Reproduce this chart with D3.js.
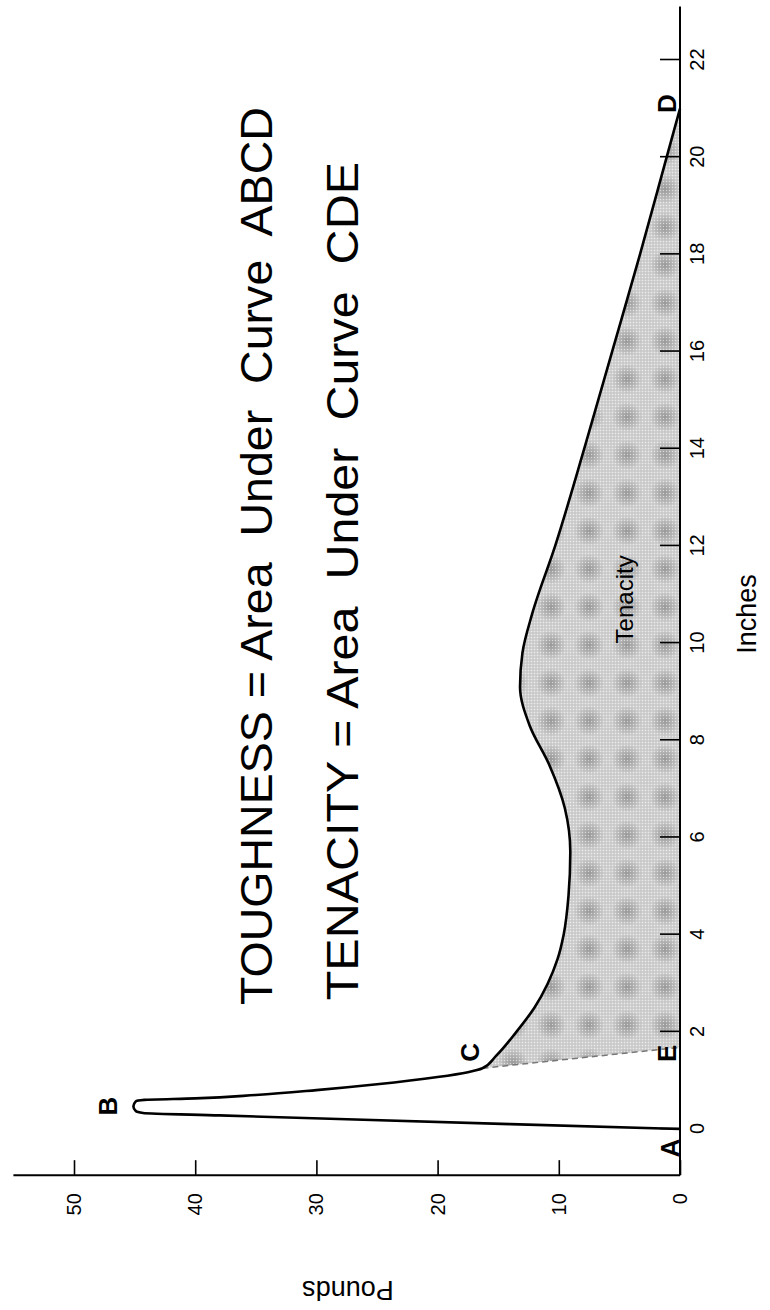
<!DOCTYPE html>
<html>
<head>
<meta charset="utf-8">
<title>Toughness and Tenacity</title>
<script src="https://cdnjs.cloudflare.com/ajax/libs/d3/7.8.5/d3.min.js"></script>
<style>
  body { margin: 0; background: #fff; }
  svg { display: block; font-family: "Liberation Sans", Arial, Helvetica, sans-serif; }
  .axis .domain { display: none; }
  .axis .tick line { stroke: #000; stroke-width: 1.6; }
  .axis .tick text { font-size: 20px; fill: #000; font-family: "Liberation Sans", Arial, sans-serif; }
  .axis-line { stroke: #000; stroke-width: 2; }
  .curve { fill: none; stroke: #000; stroke-width: 2.6; }
  .pt { font-size: 26px; font-weight: bold; }
  .note { font-size: 44px; white-space: pre; }
  .title { font-size: 27px; }
</style>
</head>
<body>
<div id="chart"></div>
<script>
  // curve (inches, pounds)
  const inches = [0, 0.1, 0.2, 0.28, 0.33, 0.37, 0.47, 0.57, 0.6, 0.63, 0.7, 0.8, 0.92, 1.07, 1.17, 1.25,
    1.5, 2, 2.5, 3, 3.5, 4, 4.8, 5.7, 6.6, 7.5, 8.3, 9.1, 9.8, 10.6, 12, 14, 16, 18, 20, 21]
  const pounds = [0, 14, 27.5, 38, 44.3, 44.9, 45.1, 44.9, 44.2, 40, 35, 30, 25, 20, 17.5, 16.3,
    15.2, 13.5, 12, 10.9, 10.1, 9.6, 9.2, 9.05, 9.5, 10.8, 12.4, 13.2, 13.0, 12.2, 10.3, 7.9, 5.6, 3.3, 1.1, 0]
  const pointC = 1.25
  const pointE = 1.68
  const inchTicks = [0, 2, 4, 6, 8, 10, 12, 14, 16, 18, 20, 22]
  const poundTicks = [0, 10, 20, 30, 40, 50]

  const W = 770, H = 1310
  const svg = d3.select('#chart').append('svg')
    .attr('width', W)
    .attr('height', H)

  // halftone-ish fill
  const defs = svg.append('defs')
  const grad = defs.append('radialGradient').attr('id', 'blot')
  grad.append('stop').attr('offset', '0%').attr('stop-color', '#9c9c9c')
  grad.append('stop').attr('offset', '100%').attr('stop-color', '#d2d2d2')
  const blot = defs.append('pattern').attr('id', 'blots')
    .attr('patternUnits', 'userSpaceOnUse').attr('width', 38).attr('height', 38)
  blot.append('rect').attr('width', 38).attr('height', 38).attr('fill', '#d2d2d2')
  blot.append('circle').attr('cx', 19).attr('cy', 19).attr('r', 15).attr('fill', 'url(#blot)')
  const dots = defs.append('pattern').attr('id', 'dots')
    .attr('patternUnits', 'userSpaceOnUse').attr('width', 3).attr('height', 3)
  dots.append('rect').attr('width', 1).attr('height', 1).attr('fill', '#fff').attr('opacity', 0.55)
  dots.append('rect').attr('x', 1.5).attr('y', 1.5).attr('width', 1).attr('height', 1).attr('fill', '#777').attr('opacity', 0.4)

  // the whole figure is turned a quarter turn
  const chart = svg.append('g')
    .attr('transform', `translate(0,${H}) rotate(-90)`)

  const x = d3.scaleLinear().domain([0, 22]).range([181, 1250])
  const y = d3.scaleLinear().domain([0, 50]).range([680, 74])

  const line = d3.line()
    .x(d => x(d[0]))
    .y(d => y(d[1]))
    .curve(d3.curveMonotoneX)

  const pts = inches.map((d, i) => [d, pounds[i]])
  const tenPts = pts.filter(d => d[0] >= pointC)
  const pC = pounds[inches.indexOf(pointC)]

  // tenacity area CDE
  const areaD = line(tenPts) + `L${x(pointE)},${y(0)}Z`
  chart.append('path').attr('d', areaD).attr('fill', 'url(#blots)')
  chart.append('path').attr('d', areaD).attr('fill', 'url(#dots)')

  // dashed C-E
  chart.append('line')
    .attr('x1', x(pointC)).attr('y1', y(pC))
    .attr('x2', x(pointE)).attr('y2', y(0))
    .attr('stroke', '#777').attr('stroke-width', 1.5)
    .attr('stroke-dasharray', '6,4')

  chart.append('path')
    .datum(pts)
    .attr('class', 'curve')
    .attr('d', line)

  // axes
  chart.append('g')
    .attr('class', 'axis')
    .attr('transform', `translate(0,${y(0)})`)
    .call(d3.axisBottom(x).tickValues(inchTicks).tickSizeInner(-20).tickSizeOuter(0).tickPadding(10))
  chart.append('g')
    .attr('class', 'axis')
    .attr('transform', `translate(${x(-0.95)},0)`)
    .call(d3.axisLeft(y).tickValues(poundTicks).tickSizeInner(-15).tickSizeOuter(0).tickPadding(18))

  chart.append('line').attr('class', 'axis-line')
    .attr('x1', x(-0.95)).attr('x2', x(23.1))
    .attr('y1', y(0)).attr('y2', y(0))
  chart.append('line').attr('class', 'axis-line')
    .attr('x1', x(-0.95)).attr('x2', x(-0.95))
    .attr('y1', y(0)).attr('y2', y(55))

  // axis titles
  chart.append('text')
    .attr('class', 'title')
    .attr('x', x(10.6)).attr('y', y(0) + 76)
    .attr('text-anchor', 'middle')
    .text('Inches')
  chart.append('text')
    .attr('class', 'title')
    .attr('transform', `translate(${x(-0.95) - 106},${y(27.4)}) rotate(-90)`)
    .attr('text-anchor', 'middle')
    .text('Pounds')

  // point letters
  const letters = [
    { t: 'A', i: 0, p: 0, dx: -19, dy: -10 },
    { t: 'B', i: 0.47, p: 45.1, dx: 0, dy: -25 },
    { t: 'C', i: pointC, p: pC, dx: 16, dy: -12 },
    { t: 'D', i: 21, p: 0, dx: 5, dy: -13 },
    { t: 'E', i: pointE, p: 0, dx: -6, dy: -13 }
  ]
  chart.selectAll('.pt')
    .data(letters)
    .enter()
    .append('text')
    .attr('class', 'pt')
    .attr('x', d => x(d.i) + d.dx)
    .attr('y', d => y(d.p) + d.dy)
    .attr('text-anchor', 'middle')
    .attr('dominant-baseline', 'central')
    .text(d => d.t)

  // notes
  chart.append('text')
    .attr('class', 'note')
    .attr('x', x(2.55)).attr('y', y(33.7))
    .attr('textLength', x(21.03) - x(2.55))
    .attr('lengthAdjust', 'spacingAndGlyphs')
    .text('TOUGHNESS = Area  Under  Curve  ABCD')
  chart.append('text')
    .attr('class', 'note')
    .attr('x', x(2.65)).attr('y', y(26.6))
    .attr('textLength', x(19.9) - x(2.65))
    .attr('lengthAdjust', 'spacingAndGlyphs')
    .text('TENACITY = Area  Under  Curve  CDE')

  chart.append('text')
    .attr('x', x(10.9)).attr('y', y(4.6))
    .attr('text-anchor', 'middle')
    .attr('dominant-baseline', 'central')
    .style('font-size', '24px')
    .text('Tenacity')
</script>
</body>
</html>
